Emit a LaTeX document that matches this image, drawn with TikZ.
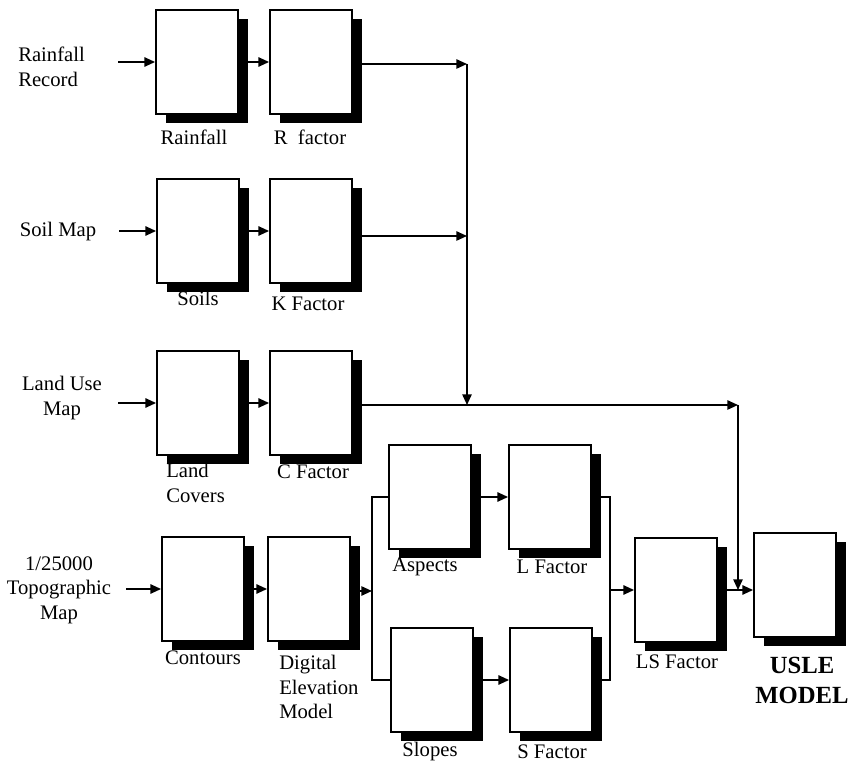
\documentclass[tikz,border=0pt]{standalone}
\usepackage{fontspec}
\setmainfont{Liberation Serif}
\usepackage{tikz}
\usetikzlibrary{arrows.meta,shadows}
\newcommand\labsize{\fontsize{15.5}{18.5}\selectfont}
\newcommand\usletext{\fontsize{18.5}{22.5}\selectfont\bfseries}
\tikzset{
  blk/.style={
    draw=black, line width=1.4pt, fill=white, inner sep=0pt,
    minimum width=61.5pt, minimum height=78pt,
    drop shadow={shadow xshift=7.5pt, shadow yshift=-6.75pt, fill=black, opacity=1}
  },
  lab/.style={font=\labsize, inner sep=0pt, align=center},
  labl/.style={lab, align=left, anchor=west},
  arr/.style={-{Triangle[length=8pt,width=7pt]}, draw=black, line width=1.25pt},
  wire/.style={draw=black, line width=1.25pt},
  every picture/.append style={line join=miter}
}
\begin{document}
\begin{tikzpicture}[x=0.75pt,y=-0.75pt]
  \useasboundingbox (0,0) rectangle (851,763);
  % boxes
  \node[blk] (rain) at (197,62) {};
  \node[blk] (rfac) at (311,62) {};
  \node[blk] (soil) at (198,231) {};
  \node[blk] (kfac) at (311,231) {};
  \node[blk] (land) at (198,403) {};
  \node[blk] (cfac) at (311,403) {};
  \node[blk] (cont) at (203,589) {};
  \node[blk] (dem) at (309,589) {};
  \node[blk] (asp) at (430,497) {};
  \node[blk] (lfac) at (550,497) {};
  \node[blk] (slope) at (432,680) {};
  \node[blk] (sfac) at (551,680) {};
  \node[blk] (ls) at (676,590) {};
  \node[blk] (usle) at (795,585) {};
  % sources
  \node[labl] (rrec) at (18,67) {Rainfall\\Record};
  \node[lab] (smap) at (58,232) {Soil Map};
  \node[lab] (lmap) at (62,398) {Land Use\\Map};
  \node[lab] (tmap) at (59,590) {1/25000\\Topographic\\Map};
  % box labels
  \node[lab] (rainlab) at (194,137) {Rainfall};
  \node[lab] (rfaclab) at (310,137) {R\ \ factor};
  \node[lab] (soillab) at (198,298) {Soils};
  \node[lab] (kfaclab) at (308,304) {K\ Factor};
  \node[labl] (landlab) at (166,483) {Land\\Covers};
  \node[lab] (cfaclab) at (313,472) {C Factor};
  \node[lab] (contlab) at (203,658) {Contours};
  \node[labl] (demlab) at (279,687) {Digital\\Elevation\\Model};
  \node[lab] (asplab) at (425,567) {Aspects};
  \node[lab] (lfaclab) at (552,567) {L\ Factor};
  \node[lab] (slopelab) at (430,752) {Slopes};
  \node[lab] (sfaclab) at (552,752) {S Factor};
  \node[lab] (lslab) at (677,662) {LS Factor};
  \node[lab, font=\usletext] (uslelab) at (802,680) {USLE\\MODEL};
  % junctions
  \coordinate (jr) at (467,64);
  \coordinate (jk) at (467,236);
  \coordinate (ju) at (738,405);
  \coordinate (jc) at (467,405);
  \coordinate (fl) at (372,591);
  \coordinate (fr) at (610,590);
  % inputs
  \draw[arr] ([xshift=-27.75pt]rain.west) -- (rain.west);
  \draw[arr] ([xshift=-27.75pt]soil.west) -- (soil.west);
  \draw[arr] ([xshift=-28.5pt]land.west) -- (land.west);
  \draw[arr] ([xshift=-26.25pt]cont.west) -- (cont.west);
  % chains
  \draw[arr] (rain) -- (rfac);
  \draw[arr] (soil) -- (kfac);
  \draw[arr] (land) -- (cfac);
  \draw[arr] (cont) -- (dem);
  \draw[arr] (asp) -- (lfac);
  \draw[arr] (slope) -- (sfac);
  % R, K, C collector
  \draw[arr] (rfac.east |- jr) -- (jr);
  \draw[arr] (kfac.east |- jk) -- (jk);
  \draw[arr] (jr) -- (jc);
  \draw[arr] (cfac.east |- ju) -- (ju);
  \draw[arr] (ju) -- (ju |- ls.east);
  % DEM fork and LS
  \draw[arr] (dem.east |- fl) -- (fl);
  \draw[wire] (asp.west) -| (fl) |- (slope.west);
  \draw[wire] (lfac.east) -| (fr) |- (sfac.east);
  \draw[arr] (fr) -- (ls);
  \draw[arr] (ls.east) -- (usle.west |- ls.east);
\end{tikzpicture}
\end{document}
